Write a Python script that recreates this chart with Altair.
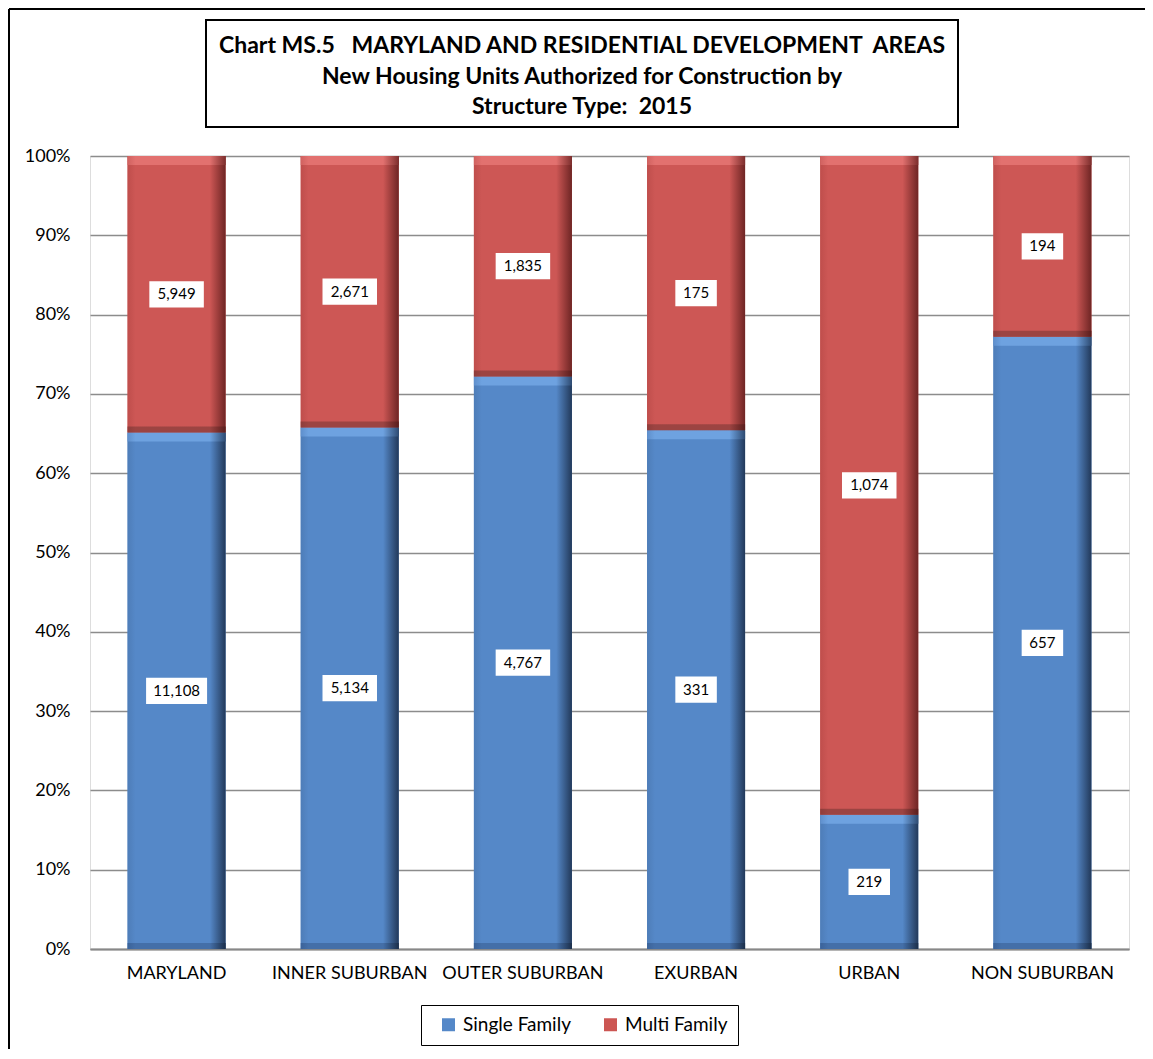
import altair as alt
import pandas as pd

areas = ["MARYLAND", "INNER SUBURBAN", "OUTER SUBURBAN", "EXURBAN", "URBAN", "NON SUBURBAN"]
single_family = [11108, 5134, 4767, 331, 219, 657]
multi_family = [5949, 2671, 1835, 175, 1074, 194]
series = ["Single Family", "Multi Family"]
series_colors = ["#5588C8", "#CC5653"]
y_ticks = [0, 0.1, 0.2, 0.3, 0.4, 0.5, 0.6, 0.7, 0.8, 0.9, 1.0]
NB = "\u00a0"
title_lines = [
    "Chart MS.5" + NB * 3 + "MARYLAND AND RESIDENTIAL DEVELOPMENT" + NB * 2 + "AREAS",
    "New Housing Units Authorized for Construction by",
    "Structure Type:" + NB * 2 + "2015",
]

rows = []
for i, a in enumerate(areas):
    rows.append({"area": a, "series": series[0], "order": 0, "value": single_family[i]})
    rows.append({"area": a, "series": series[1], "order": 1, "value": multi_family[i]})
df = pd.DataFrame(rows)

FONT = "Lato"


def grad(light, main, dark):
    return alt.LinearGradient(
        gradient="linear", x1=0, x2=1, y1=0, y2=0,
        stops=[
            alt.GradientStop(color=light, offset=0),
            alt.GradientStop(color=main, offset=0.08),
            alt.GradientStop(color=main, offset=0.84),
            alt.GradientStop(color=dark, offset=1),
        ],
    )


base = alt.Chart(df).transform_stack(
    stack="value", groupby=["area"], as_=["y0", "y1"], offset="normalize",
    sort=[alt.SortField("order", order="ascending")],
).transform_calculate(
    ymid="(datum.y0 + datum.y1) / 2",
    label="format(datum.value, ',')",
    hw="(length(format(datum.value, ',')) * 6.5 + 22) / 64",
).transform_calculate(
    box="'M-' + datum.hw + ',-0.41H' + datum.hw + 'V0.41H-' + datum.hw + 'Z'"
)

x = alt.X(
    "area:N", sort=areas,
    scale=alt.Scale(paddingInner=0.434, paddingOuter=0.217),
    axis=alt.Axis(title=None, labelAngle=0, labelFontSize=18, labelFont=FONT,
                  labelColor="black", labelPadding=15, ticks=False,
                  domainColor="#888888", domainWidth=2),
)


def yenc(field):
    return alt.Y(
        field, scale=alt.Scale(domain=[0, 1]),
        axis=alt.Axis(title=None, format="%", values=y_ticks, ticks=False, domain=False,
                      labelPadding=20, labelFontSize=18, labelFont=FONT, labelColor="black",
                      gridColor="#8c8c8c", gridWidth=1.5),
    )


dummy = pd.DataFrame({"k": [0]})
title_box = alt.Chart(dummy).mark_rect(fill="white", stroke="black", strokeWidth=2).encode(
    x=alt.value(116), x2=alt.value(868), y=alt.value(-136), y2=alt.value(-29)
)
outer_left = alt.Chart(dummy).mark_rule(color="black", strokeWidth=2).encode(
    x=alt.value(-81), y=alt.value(-147), y2=alt.value(905)
)
outer_top = alt.Chart(dummy).mark_rule(color="black", strokeWidth=2).encode(
    x=alt.value(-81), x2=alt.value(1060), y=alt.value(-147)
)
title_marks = [
    alt.Chart(dummy).mark_text(
        text=line, font=FONT, fontSize=23, fontWeight="bold", color="black",
        align="center", baseline="middle",
    ).encode(x=alt.value(492), y=alt.value(yy))
    for line, yy in zip(title_lines, [-110, -79, -49])
]

solid = base.mark_bar().encode(
    x=x, y=yenc("y0:Q"), y2="y1:Q",
    color=alt.Color(
        "series:N", sort=series,
        scale=alt.Scale(domain=series, range=series_colors),
        legend=alt.Legend(
            title=None, orient="none", legendX=331, legendY=849, direction="horizontal",
            strokeColor="black", fillColor="white", padding=10,
            symbolType="square", symbolSize=169, symbolStrokeWidth=0,
            labelFontSize=19, labelFont=FONT, labelColor="black",
            columnPadding=22, labelOffset=5, symbolOffset=8,
        ),
    ),
)

sf = "datum.series == 'Single Family'"
mf = "datum.series == 'Multi Family'"

blue_body = base.transform_filter(sf).mark_bar(
    color=grad("#4E7DB8", "#5588C8", "#22395A")
).encode(x=x, y=yenc("y0:Q"), y2="y1:Q")
red_body = base.transform_filter(mf).mark_bar(
    color=grad("#BF4E4C", "#CD5755", "#6E2524")
).encode(x=x, y=yenc("y0:Q"), y2="y1:Q")

blue_top = base.transform_filter(sf).mark_bar(
    color=grad("#5F8FCC", "#6EA2E0", "#2E4B72"), y2Offset=9
).encode(x=x, y=yenc("y1:Q"), y2="y1:Q")
red_top = base.transform_filter(mf).mark_bar(
    color=grad("#D06260", "#E2716F", "#7C2E2D"), y2Offset=9
).encode(x=x, y=yenc("y1:Q"), y2="y1:Q")

blue_bot = base.transform_filter(sf).mark_bar(
    color=grad("#3B639A", "#446FA8", "#1C2F4A"), y2Offset=-6
).encode(x=x, y=yenc("y0:Q"), y2="y0:Q")
red_bot = base.transform_filter(mf).mark_bar(
    color=grad("#8F3D3B", "#9C4442", "#5A1E1D"), y2Offset=-6
).encode(x=x, y=yenc("y0:Q"), y2="y0:Q")

boxes = base.mark_point(filled=True, fill="white", opacity=1, size=4096, strokeWidth=0).encode(
    x=x, y=yenc("ymid:Q"), shape=alt.Shape("box:N", scale=None, legend=None)
)
texts = base.mark_text(font=FONT, fontSize=15, color="black").encode(
    x=x, y=yenc("ymid:Q"), text="label:N"
)

chart = alt.layer(
    title_box, outer_left, outer_top, *title_marks,
    solid, blue_body, red_body, blue_top, red_top, blue_bot, red_bot,
    boxes, texts,
).properties(
    width=1039, height=793,
    autosize=alt.AutoSizeParams(type="none"),
    padding={"left": 82, "top": 148, "right": 16, "bottom": 100},
).configure_view(
    stroke="black", strokeWidth=1.5
).configure(background="white")

chart.save("out.html", embed_options={"renderer": "svg", "actions": False})
